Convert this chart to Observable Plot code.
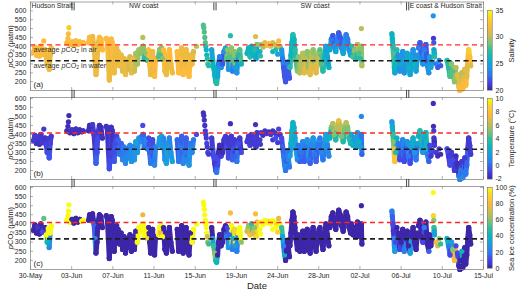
<!DOCTYPE html>
<html><head><meta charset="utf-8">
<script src="https://cdn.jsdelivr.net/npm/d3@7"></script>
<script src="https://cdn.jsdelivr.net/npm/@observablehq/plot@0.6"></script>
<style>
html,body{margin:0;padding:0;background:#fff;}
#chart{position:relative;width:520px;height:292px;overflow:hidden;}
#chart .p{position:absolute;}
</style></head><body><div id="chart"></div>
<script>
// ---------------- DATA ----------------
// days since 30-May 00:00 (one line per track/run)
const dayOffsets = [
  0.3,0.45,0.6,0.75,0.9,1.05,1.2,1.5,1.6,1.7,1.8,1.9,2.0,2.1,
  1.35,
  3.7,4.0,4.2,4.4,4.6,4.8,5.0,5.2,5.35,
  3.8,3.85,3.9,
  5.9,6.0,6.15,6.3,6.45,6.55,6.65,6.75,6.85,7.0,7.15,7.3,
  7.7,7.8,7.9,8.0,8.1,8.2,8.3,8.4,8.5,8.6,8.75,
  8.9,9.05,9.2,9.35,9.5,9.65,9.8,9.95,10.1,10.25,10.4,10.55,10.7,10.85,11.0,
  11.15,11.3,11.45,11.55,11.7,11.85,
  11.4,
  12.0,12.1,12.2,12.3,12.4,12.5,12.6,12.7,
  13.0,13.1,13.2,13.3,13.4,
  13.5,13.65,13.8,13.95,14.1,14.25,14.4,
  14.9,15.05,15.2,15.35,15.5,15.65,15.8,15.95,16.1,16.25,16.4,16.55,
  16.85,
  17.55,17.6,17.65,17.7,17.75,17.8,17.85,17.9,17.95,18.0,18.1,
  18.4,18.5,18.6,18.7,18.8,18.9,19.0,19.1,19.2,19.35,19.5,19.65,19.8,
  19.9,20.0,20.1,20.2,20.4,20.5,20.6,20.7,20.8,20.95,21.1,21.25,21.4,
  20.3,
  22.0,22.15,22.3,22.45,22.6,22.75,22.9,23.0,
  22.85,
  23.4,23.6,23.8,24.0,24.2,24.4,24.6,24.8,25.0,25.2,25.35,24.6,24.9,25.1,23.3,23.35,
  25.5,25.6,25.7,25.8,25.9,26.0,26.1,26.2,26.3,
  26.35,26.45,26.55,26.65,26.75,26.85,26.95,27.1,
  27.2,27.35,27.5,27.65,27.8,27.95,28.1,28.25,28.4,28.55,28.7,28.85,29.0,29.15,29.3,
  29.4,29.55,29.7,29.85,30.0,30.15,30.3,
  30.4,30.55,30.7,30.85,31.0,31.15,31.3,31.45,31.6,31.75,31.9,32.05,32.2,32.35,32.5,
  32.6,32.75,32.9,33.05,33.2,33.35,33.5,33.6,33.65,
  33.6,
  36.7,36.75,36.8,36.85,36.9,36.95,37.0,37.1,37.2,
  37.35,37.5,37.65,37.8,37.95,38.1,38.25,38.4,38.55,38.7,38.85,39.0,39.15,39.3,
  39.4,39.55,39.7,39.85,40.0,40.15,40.3,40.45,
  40.55,40.65,40.75,
  40.9,40.92,40.95,
  40.97,41.0,41.02,
  41.2,41.35,41.5,41.65,
  42.3,42.45,42.6,42.75,42.9,43.05,43.2,
  43.35,43.5,43.6,43.7,43.8,43.9,44.0,44.1,44.2,44.3,44.4,44.5,44.6,44.7
];
const pco2 = [
  365,395,350,385,345,400,355,380,340,300,375,270,350,390,
  430,
  420,410,425,405,430,410,425,415,420,
  445,470,505,
  420,450,445,455,400,320,240,300,410,450,440,380,
  445,430,320,210,280,440,420,300,250,350,390,
  370,290,350,260,330,240,320,270,340,250,330,260,360,300,380,
  360,390,400,330,370,320,
  450,
  380,300,240,320,370,260,230,330,
  340,380,350,390,330,
  380,260,240,340,380,300,250,
  370,250,330,390,240,300,380,260,230,350,300,370,
  400,
  520,505,480,450,420,400,380,350,330,300,290,
  380,320,280,240,200,190,230,300,340,280,300,370,390,
  330,380,270,340,390,260,320,370,280,250,350,380,300,
  460,
  360,390,340,400,350,380,330,410,
  455,
  410,395,420,405,415,400,420,410,395,430,400,370,380,355,370,345,
  380,330,280,230,200,250,310,260,220,
  280,350,420,465,440,380,320,260,
  340,250,300,360,250,330,370,260,240,340,380,290,250,330,370,
  380,300,260,330,400,340,280,
  380,440,460,400,370,430,475,450,390,360,420,465,440,380,350,
  400,340,380,330,410,360,330,400,290,
  500,
  470,440,400,360,320,280,250,300,380,
  350,260,300,370,250,320,360,280,240,330,380,300,260,350,
  390,420,330,300,380,410,290,250,
  340,280,310,
  572,445,420,
  380,360,340,
  300,280,320,290,
  320,280,230,300,260,200,280,
  240,170,150,200,250,160,190,270,180,230,320,380,340,290
];
const salinity = [
  32,32,32,32,32,32,32,32,31.5,31.5,32,31.5,31.5,32,
  32,
  32,32,32,32,32,32,32,32,32,
  32,32,33,
  32,32,32,31.5,31.5,31.5,31.5,31.5,31.5,32,32,32,
  32,32,31.5,31.5,31.5,32,32,31.5,31.5,31.5,31.5,
  31.5,31.5,31.5,31,31.5,31.5,31.5,30.5,30.5,31.5,31.5,30.5,29.5,29.5,29.5,
  29,29,29,27,29,28,
  30,
  32,32,31.5,32,31.5,31.5,32,31.5,
  28,29,28,29,29,
  32,31.5,31.5,32,32,31.5,31.5,
  32,32,32,31.5,32,31.5,31.5,32,32,31.5,31.5,30.5,
  30,
  28,28,28,28,28,27,26,26,27,28,27,
  25,26,26,26,27,27,25,23,23,24,22,24,25,
  28,29,24,28,29,23,28,29,25,24,27,28,26,
  27,
  26,26,27,26,26,27,25,29,
  31,
  29,30,31,31,32,31,31,30,31,32,30,26,27,25,26,27,
  24,23,22,22,22,22,23,22,22,
  27,26,26,27,26,27,28,29,
  29,30,30,30,31,30,29,31,31,30,29,31,31,30,29,
  28,28,27,26,25,25,26,
  25,23,22,24,25,23,22,22,24,25,24,23,23,24,25,
  27,28,29,27,30,28,27,29,30,
  30,
  26,26,27,28,27,26,25,26,27,
  24,24,25,24,24,25,25,26,25,25,24,26,25,24,
  23,22,23,24,23,22,24,24,
  25,25,24,
  24,21,22,
  25,26,27,
  23,22,23,22,
  27,27,28,29,28,29,30,
  31,32,32,31,30,32,32,31,32,31,32,33,32,31
];
const temperature = [
  -1.2,-1.2,-1.5,-1.2,-1.5,-1.3,-1.2,-1.4,-1,-0.7,-1.2,-0.5,-1,-1.2,
  -1.3,
  -1.7,-1.7,-1.5,-1.7,-1.5,-1.7,-1.5,-1.7,-1.6,
  -1.7,-1.7,-1.8,
  -1.7,-1.7,-1.7,-1.2,-1.2,-0.7,-0.2,-0.7,-1.2,-1.7,-1.7,-1.5,
  -1.5,-1.5,-1.2,-0.7,-1,-1.5,-1.5,-0.7,-0.4,-0.7,-1,
  -0.2,0.3,-0.2,0.8,0.3,0.8,0.3,0.8,0.8,1.3,0.8,1.3,1.8,1.3,1.3,
  0.8,0.3,-0.2,0.3,0.8,0.3,
  -0.7,
  -0.7,-0.2,0.3,-0.2,-0.7,0.3,0.8,0.3,
  1.3,1.8,1.3,1.8,1.3,
  0.8,1.3,1.8,1.3,0.8,1.3,1.8,
  -0.2,0.3,0.3,-0.2,0.8,0.3,-0.2,0.8,1.3,0.3,0.8,0.3,
  -0.7,
  -1.5,-1.5,-1.5,-1.5,-1.2,-1.2,-1.2,-1,-1.2,-1,-1.2,
  -1.2,-0.7,-0.7,-1.2,-0.2,0.3,-0.7,-1.7,-1.7,-1.2,-1.7,-1.2,-1.2,
  -0.7,-1.2,-0.7,-1.2,-1.2,-0.2,-0.7,-1.2,-0.2,0.3,-0.7,-1.2,-0.7,
  -1.7,
  -1.2,-1.2,-1,-1.2,-1.2,-1.1,-1.2,-1.4,
  -1.5,
  -1.2,-1.5,-1.4,-1.3,-1.5,-1.2,-1.5,-1.3,-1.2,-1,-1.4,-1.2,-0.7,-1.2,-1.2,-1.2,
  -0.7,-0.2,0.3,0.8,0.3,-0.2,0.3,0.8,0.3,
  1.5,2.5,3,2.5,2.5,2,1.5,1,
  0.3,-0.2,0.3,0.8,-0.2,0.3,1.3,0.3,-0.2,0.8,1.3,0.3,-0.2,0.3,1.3,
  0.3,0.8,0.3,1.3,1.8,0.8,0.8,
  2.5,5,6,5,3.5,6,7,6,5,3.5,5,6,5,3.5,3,
  2,2.5,1.5,2,1.5,2.5,2,0.3,-0.2,
  0.8,
  1.5,2.5,4,5,7,8,8,3.5,2.5,
  0.3,-0.7,-0.2,0.8,-0.7,-0.2,1.3,0.3,-0.7,2,2.5,1.3,0.3,2,
  2.5,3.5,2.5,1.3,2.5,3,0.3,-0.2,
  -0.7,-1.2,-0.7,
  -1.7,-1.7,-1.2,
  -1.2,-1.7,-1.2,
  -1.2,-1.7,-1.2,-1.7,
  -0.7,-1.2,-0.7,-1.2,-0.7,-1.2,-1.7,
  -1.7,0.3,0.8,0.3,-1.2,0.8,0.3,-1.2,0.3,-0.2,-1.2,-1.2,-1.2,-1.2
];
const iceConcentration = [
  0,0,0,5,0,0,10,0,100,40,100,25,100,100,
  55,
  100,100,0,0,0,0,0,100,100,
  100,100,100,
  0,0,0,0,15,25,0,0,0,0,0,0,
  0,0,0,0,0,0,0,0,0,0,0,
  0,0,0,0,0,0,0,0,0,0,0,0,0,100,100,
  100,100,100,100,100,90,
  75,
  0,0,0,0,0,0,0,0,
  100,100,80,100,100,
  0,0,0,0,0,0,0,
  0,0,0,0,0,0,0,0,0,0,100,100,
  100,
  100,100,100,100,100,100,100,100,70,60,50,
  0,30,50,60,50,40,0,0,0,0,0,0,0,
  20,10,30,15,100,20,40,90,30,20,100,100,60,
  80,
  70,60,80,50,70,60,90,80,
  80,
  100,100,100,100,95,100,100,100,90,75,100,100,100,90,100,100,
  50,30,20,40,0,0,0,0,0,
  0,0,0,0,0,0,0,0,
  0,0,0,0,0,0,0,0,0,0,0,0,0,0,0,
  0,0,0,0,0,0,0,
  0,0,0,0,0,0,0,0,0,0,0,0,0,0,0,
  0,0,0,0,0,0,0,0,0,
  0,
  20,15,10,5,20,25,30,10,0,
  0,10,0,0,20,0,0,0,30,0,0,0,0,0,
  0,0,0,10,20,0,0,15,
  0,0,0,
  100,90,60,
  50,35,30,
  80,70,60,50,
  40,20,10,30,60,80,10,
  10,0,0,0,40,0,0,0,0,0,0,0,0,0
];
// [track id, number of points]; id 0 = isolated dots
const trackRuns = [[1,14],[0,1],[2,9],[0,3],[3,12],[4,11],[5,15],[6,6],[0,1],[7,8],[8,5],[9,7],[10,12],[0,1],[0,11],
  [13,13],[14,13],[0,1],[15,8],[0,1],[0,16],[17,9],[18,8],[19,15],[20,7],[21,15],[22,9],[0,1],[24,9],[25,14],[26,8],
  [27,3],[0,3],[28,3],[0,4],[30,7],[31,14]];

const xTickLabels = ["30-May","03-Jun","07-Jun","11-Jun","15-Jun","19-Jun","24-Jun","28-Jun","02-Jul","06-Jul","10-Jul","15-Jul"];
const xStartDay = 0, xEndDay = 46;
const yTicks = [200,250,300,350,400,450,500,550,600];
const airLevel = 408, waterLevel = 318;
const annotationTexts = ["average pCO2 in air", "average pCO2 in water"];
const regionNames = ["Hudson Strait","NW coast","SW coast","E coast & Hudson Strait"];
const regionDays = [0.1, 11.5, 28.9, 38.5];
const regionAnchors = ["start","middle","middle","start"];
const boundaryDays = [4.32, 18.73, 38.3];
const salinityTicks = [20,25,30,35];
const temperatureTicks = [-2,0,2,4,6,8,10];
const iceTicks = [0,20,40,60,80,100];
const parula = ["#3e26a8","#4546e6","#2c7df0","#1a9ee0","#0cb4c0","#35bd9a","#8cc36a","#d2bc4c","#fcbb3c","#f7d52b","#f9fb15"];

// ---------------- BUILD ----------------
const track = trackRuns.flatMap(([id, n]) => Array(n).fill(id));
const N = dayOffsets.length;
[pco2, salinity, temperature, iceConcentration, track].forEach((a, k) => {
  if (a.length !== N) throw new Error("length mismatch in array " + k + ": " + a.length + " vs " + N);
});
const idx = d3.range(N);
const linkIdx = idx.filter(i => i < N - 1 && track[i] !== 0 && track[i] === track[i + 1]);

const xTicks = xTickLabels.map((_, i) => xStartDay + i * (xEndDay - xStartDay) / (xTickLabels.length - 1));
const tickStep = (xEndDay - xStartDay) / (xTickLabels.length - 1);

const FONT = '"Liberation Sans", Arial, Helvetica, sans-serif';
const INK = "#262626", FRAME = "#7a7a7a";
const baseStyle = {background: "transparent", fontFamily: FONT, fontSize: "7px", color: INK, overflow: "visible"};

function colorScale(dom) {
  return {type: "linear", domain: parula.map((_, i) => dom[0] + i * (dom[1] - dom[0]) / (parula.length - 1)), range: parula, clamp: true};
}

const NS = "http://www.w3.org/2000/svg";
function richify(svg) {
  svg.querySelectorAll("text").forEach(t => {
    const s = t.textContent;
    const k = s.indexOf("pCO2");
    if (k < 0 || t.querySelector("tspan")) return;
    const before = s.slice(0, k), after = s.slice(k + 4);
    while (t.firstChild) t.removeChild(t.firstChild);
    const add = (txt, attrs = {}) => {
      const e = document.createElementNS(NS, "tspan");
      for (const [a, v] of Object.entries(attrs)) e.setAttribute(a, v);
      e.textContent = txt; t.appendChild(e);
    };
    if (before) add(before);
    add("p", {"font-style": "italic"});
    add("CO");
    add("2", {"font-size": "70%", dy: "0.3em"});
    add(after, {dy: "-0.21em"});
  });
}

const chart = document.getElementById("chart");
function place(node, left, top) {
  const d = document.createElement("div");
  d.className = "p"; d.style.left = left + "px"; d.style.top = top + "px";
  d.appendChild(node); chart.appendChild(d);
  richify(node.tagName.toLowerCase() === "svg" ? node : node.querySelector("svg"));
}

const panels = [
  {values: salinity, cdomain: [20, 35], cticks: salinityTicks, clabel: "Salinity", tag: "(a)",
   top: 0, height: 91, mt: 1.5, mb: 1, ydomain: [150, 650], cbTop: 10, cbBottom: 90, first: true},
  {values: temperature, cdomain: [-2, 10], cticks: temperatureTicks, clabel: "Temperature (°C)", tag: "(b)",
   top: 88, height: 93, mt: 9, mb: 2, ydomain: [150, 605], cbTop: 98.3, cbBottom: 179},
  {values: iceConcentration, cdomain: [0, 100], cticks: iceTicks, clabel: "Sea ice concentration (%)", tag: "(c)",
   top: 177, height: 115, mt: 9, mb: 23, ydomain: [150, 605], cbTop: 187.3, cbBottom: 268.5, last: true}
];

const W = 490, ML = 30, MR = 7;
for (const P of panels) {
  const innerH = P.height - P.mt - P.mb;
  const pxDay = (xEndDay - xStartDay) / (W - ML - MR);
  const pxVal = (P.ydomain[1] - P.ydomain[0]) / innerH;
  const marks = [
    Plot.link(linkIdx, {x1: i => dayOffsets[i], y1: i => pco2[i], x2: i => dayOffsets[i + 1], y2: i => pco2[i + 1],
      stroke: i => P.values[i], strokeWidth: 5, strokeLinecap: "round"}),
    Plot.dot(idx, {x: i => dayOffsets[i], y: i => pco2[i], fill: i => P.values[i], r: 2.6}),
    Plot.ruleY([airLevel], {stroke: "#ff2626", strokeWidth: 1.4, strokeDasharray: "5,3.5"}),
    Plot.ruleY([waterLevel], {stroke: "#1c1c1c", strokeWidth: 1.6, strokeDasharray: "5,3.5"}),
    Plot.ruleY(yTicks, {x1: xStartDay, x2: xStartDay + 3 * pxDay, stroke: FRAME, strokeWidth: 0.6}),
    Plot.ruleY(yTicks, {x1: xEndDay - 3 * pxDay, x2: xEndDay, stroke: FRAME, strokeWidth: 0.6}),
    Plot.ruleX(xTicks, {y1: P.ydomain[0], y2: P.ydomain[0] + 3 * pxVal, stroke: FRAME, strokeWidth: 0.6}),
    Plot.ruleX(xTicks, {y1: P.ydomain[1] - 3 * pxVal, y2: P.ydomain[1], stroke: FRAME, strokeWidth: 0.6}),
    Plot.frame({stroke: FRAME, strokeWidth: 0.7}),
    Plot.ruleX(boundaryDays, {x: d => d - 1.1 * pxDay, y1: 600, y2: 600 + 8 * pxVal, stroke: "#333", strokeWidth: 0.9}),
    Plot.ruleX(boundaryDays, {x: d => d + 1.1 * pxDay, y1: 600, y2: 600 + 8 * pxVal, stroke: "#333", strokeWidth: 0.9}),
    Plot.text([P.tag], {frameAnchor: "bottom-left", textAnchor: "start", lineAnchor: "bottom", dx: 3, dy: -4, fontSize: 8, fill: INK}),
    Plot.text(["pCO2 (\u03bcatm)"], {frameAnchor: "left", rotate: -90, textAnchor: "middle", lineAnchor: "middle", dx: -20, fontSize: 7.5, fill: INK})
  ];
  if (P.first) {
    const ri = d3.range(regionNames.length);
    for (const anchor of ["start", "middle"]) {
      marks.push(Plot.text(ri.filter(i => regionAnchors[i] === anchor), {x: i => regionDays[i], frameAnchor: "top",
        text: i => regionNames[i], textAnchor: anchor, lineAnchor: "top", dy: 1, fontSize: 6.8, fill: INK}));
    }
    marks.push(Plot.text([0, 1], {x: xStartDay + 0.3, y: i => [airLevel, waterLevel][i], text: i => annotationTexts[i],
      textAnchor: "start", lineAnchor: "middle", dy: 4.5, fontSize: 7.2, fill: "#333"}));
  }
  if (P.last) {
    marks.push(Plot.text(["Date"], {frameAnchor: "bottom", textAnchor: "middle", lineAnchor: "middle", dy: 16.5, fontSize: 9.5, fill: INK}));
  }
  const svg = Plot.plot({
    width: W, height: P.height, marginTop: P.mt, marginBottom: P.mb, marginLeft: ML, marginRight: MR,
    style: baseStyle,
    x: {domain: [xStartDay, xEndDay], ...(P.last
      ? {axis: "bottom", ticks: xTicks, tickSize: 0, tickPadding: 4, label: null,
         tickFormat: d => xTickLabels[Math.round((d - xStartDay) / tickStep)]}
      : {axis: null})},
    y: {domain: P.ydomain, ticks: yTicks, tickSize: 0, tickPadding: 4, label: null, tickFormat: d => String(d)},
    color: colorScale(P.cdomain),
    marks
  });
  place(svg, 0, P.top);

  // colorbar
  const cbH = P.cbBottom - P.cbTop;
  const nb = 90;
  const bands = d3.range(nb).map(k => [P.cdomain[0] + k * (P.cdomain[1] - P.cdomain[0]) / nb, P.cdomain[0] + (k + 1) * (P.cdomain[1] - P.cdomain[0]) / nb]);
  const cb = Plot.plot({
    width: 40, height: cbH + 10, marginTop: 5, marginBottom: 5, marginLeft: 7, marginRight: 28,
    style: baseStyle,
    x: {domain: [0, 1], axis: null},
    y: {domain: P.cdomain, ticks: P.cticks, axis: "right", tickSize: 0, tickPadding: 3, label: null, tickFormat: d => String(d)},
    color: colorScale(P.cdomain),
    marks: [
      Plot.rect(bands, {x1: 0, x2: 1, y1: d => d[0], y2: d => d[1], fill: d => (d[0] + d[1]) / 2, shapeRendering: "crispEdges"}),
      Plot.frame({stroke: FRAME, strokeWidth: 0.6}),
      Plot.text([P.clabel], {frameAnchor: "right", rotate: -90, textAnchor: "middle", lineAnchor: "middle", dx: 19, fontSize: 7.5, fill: INK})
    ]
  });
  place(cb, 480, P.cbTop - 5);
}
</script></body></html>
